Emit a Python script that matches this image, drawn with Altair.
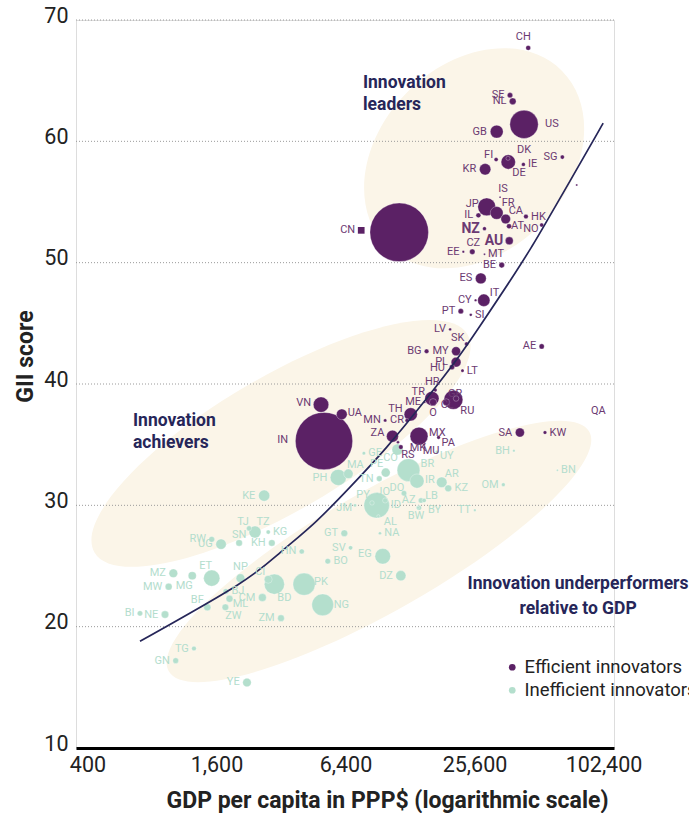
import math

import altair as alt
import pandas as pd

# ---------------------------------------------------------------------------
# Economies with an efficient innovation output (GII score vs GDP per capita)
# ---------------------------------------------------------------------------
EFF_CODES = ["CH", "SE", "NL", "US", "GB", "FI", "DK", "DE", "IE", "SG", "KR", "LU",
             "IS", "JP", "FR", "CA", "HK", "IL", "AT", "NO", "NZ", "AU", "CN", "CZ",
             "EE", "MT", "BE", "ES", "IT", "CY", "PT", "SI", "LV", "SK", "AE", "BG",
             "MY", "PL", "HU", "LT", "HR", "TR", "RO", "RU", "GR", "CL", "ME", "TH",
             "CR", "MN", "VN", "UA", "IN", "ZA", "MX", "PA", "MK", "MU", "RS", "SA",
             "KW", "QA"]
EFF_GDP = [45600, 37500, 38600, 43600, 32500, 32300, 36700, 36800, 43300, 65800, 28700, 76800,
           33700, 29200, 32500, 35800, 44500, 26700, 37100, 52700, 28500, 37200, 11400, 25000,
           22700, 28500, 34300, 27400, 28300, 25900, 22100, 24600, 19700, 23500, 52700, 15300,
           21000, 21000, 20100, 22500, 16800, 16200, 16400, 20400, 21000, 18900, 15000, 12900,
           12400, 9800, 4920, 6150, 5080, 10600, 14100, 17400, 11250, 14900, 11600, 41700,
           54600, 128000]
EFF_GII = [67.7, 63.8, 63.3, 61.4, 60.8, 58.5, 58.6, 58.3, 58.1, 58.7, 57.7, 56.4,
           55.4, 54.6, 54.1, 53.6, 53.8, 53.9, 53.0, 53.1, 52.8, 51.8, 52.5, 50.9,
           50.9, 50.7, 49.8, 48.7, 46.9, 46.9, 46.0, 45.7, 44.5, 43.3, 43.1, 42.7,
           42.7, 41.8, 41.4, 41.1, 39.5, 38.8, 38.5, 38.7, 38.8, 38.5, 38.5, 37.5,
           37.0, 37.0, 38.3, 37.5, 35.3, 35.7, 35.7, 35.6, 35.2, 35.0, 34.8, 36.0,
           36.0, 37.8]
EFF_POP = [8.4, 10, 17, 323, 66, 5.5, 5.7, 82, 4.7, 5.6, 51, 0.6,
           0.3, 127, 65, 36, 7.3, 8.5, 8.7, 5.3, 4.7, 24, 1380, 10.6,
           1.3, 0.4, 11.3, 46, 60, 1.2, 10.3, 2.1, 2.0, 5.4, 9.3, 7.1,
           31, 38, 9.8, 2.9, 4.2, 80, 20, 144, 11, 18, 0.6, 69,
           4.9, 3, 95, 45, 1320, 56, 128, 4, 2.1, 1.3, 7, 32,
           4, 2.6]

# ---------------------------------------------------------------------------
# Economies with an inefficient innovation output
# ---------------------------------------------------------------------------
INEFF_CODES = ["BH", "BN", "OM", "TT", "AR", "KZ", "UY", "BR", "IR", "CO", "GE", "MA",
               "PE", "PH", "TN", "DO", "AZ", "LB", "BY", "BW", "ID", "PY", "JO", "JM",
               "AL", "NA", "EG", "DZ", "GT", "SV", "BO", "HN", "PK", "NG", "BD", "CI",
               "CM", "ZM", "KG", "KH", "KE", "TZ", "TJ", "SN", "RW", "UG", "MZ", "MW",
               "MG", "ET", "NP", "BJ", "BF", "ML", "ZW", "BI", "NE", "TG", "GN", "YE"]
INEFF_GDP = [39100, 62400, 34900, 25700, 18000, 19300, 17100, 12600, 13800, 11200, 7800, 6600,
             9860, 5920, 9200, 12000, 14400, 14900, 14100, 13950, 8950, 8510, 9800, 7090,
             9110, 9270, 9550, 11600, 6320, 6760, 5290, 4000, 4100, 5010, 2980, 2790,
             2620, 3200, 2790, 2900, 2670, 2420, 2270, 2040, 1520, 1680, 1006, 957,
             1233, 1520, 2070, 1770, 1450, 1840, 1760, 703, 920, 1256, 1032, 2220]
INEFF_GII = [34.5, 32.9, 31.7, 29.6, 31.9, 31.4, 34.4, 32.9, 32.0, 34.6, 34.3, 32.6,
             32.7, 32.3, 32.2, 31.0, 30.4, 30.4, 29.8, 29.8, 30.0, 30.2, 30.4, 30.0,
             29.1, 27.7, 25.8, 24.2, 27.7, 26.5, 25.4, 26.2, 23.5, 21.8, 23.5, 23.9,
             22.4, 20.7, 27.8, 26.9, 30.8, 27.8, 28.1, 26.9, 27.2, 26.8, 24.4, 23.3,
             24.2, 24.0, 24.0, 22.9, 21.6, 22.3, 21.6, 21.1, 21.0, 18.2, 17.2, 15.4]
INEFF_POP = [1.4, 0.4, 4.4, 1.4, 44, 18, 3.4, 208, 80, 49, 3.7, 35,
             31, 103, 11.4, 10.6, 9.8, 6, 9.5, 2.3, 261, 6.8, 9.5, 2.9,
             2.9, 2.5, 97, 41, 17, 6.3, 11, 9, 197, 190, 163, 24,
             24, 17, 6, 16, 49, 57, 9, 16, 12, 42, 29, 18,
             25, 105, 29, 11, 19, 18, 16, 10, 21, 7.6, 12, 28]

# Trend curve of GII score against GDP per capita
TREND_GDP = [703, 1990, 3170, 4620, 6720, 9970, 15300, 21100, 27200, 38800, 47300, 55600, 88600, 102000]
TREND_GII = [18.8, 23.4, 26.1, 28.6, 31.5, 34.8, 38.8, 42.0, 44.8, 48.9, 51.3, 53.4, 59.6, 61.5]

X_TICKS = [400, 1600, 6400, 25600, 102400]
Y_TICKS = [10, 20, 30, 40, 50, 60, 70]
GROUPS = ["Efficient innovators", "Inefficient innovators"]

# Shaded groupings: name, centre GDP, centre GII
REGION_NAMES = ["leaders", "achievers", "underperformers"]
REGION_GDP = [25500, 3200, 9170]
REGION_GII = [58.6, 35.1, 26.2]

# Group captions: text, anchor GDP, anchor GII (baseline of first line)
CAPTIONS = ["Innovation\nleaders", "Innovation\nachievers", "Innovation underperformers\nrelative to GDP"]
CAPTION_GDP = [7720, 652, 77900]
CAPTION_GII = [64.4, 36.5, 23.1]

# ---------------------------------------------------------------------------
# Styling
# ---------------------------------------------------------------------------
FONT = "Roboto, Liberation Sans, sans-serif"
PURPLE = "#5b2165"
GREEN = "#b4dfcd"
LABEL_PURPLE = "#6c3a72"
LABEL_GREEN = "#b3ddcd"
BEIGE = "#fbf5e8"
NAVY = "#262659"
TEXT = "#222222"

W, H = 538, 728
X_DOMAIN = [353.5, 114640]
Y_DOMAIN = [10, 70]
SIZE_DOMAIN = [0, 1400]
SIZE_RANGE = [3, 3475]

PX_PER_DOUBLING = W / math.log2(X_DOMAIN[1] / X_DOMAIN[0])
PX_PER_GII = H / (Y_DOMAIN[1] - Y_DOMAIN[0])

# ellipse shape per region: semi-major px, semi-minor px, tilt degrees (counter-clockwise)
REGION_SHAPE = {
    "leaders": (124, 94, 45),
    "achievers": (216, 67, 30.3),
    "underperformers": (242, 60, 29.7),
}

# label placement: "W"/"E" beside the bubble, or (align, dx, dy) in pixels
LABEL_PLACE = {
    "CH": ("center", -5, -11), "US": ("left", 21, 0), "FI": ("right", -3, -5),
    "DK": ("left", 9, -8), "DE": ("left", 4, 11), "IS": ("center", 3, -8),
    "JP": ("right", -8, -3), "FR": ("left", 5, -10), "CA": ("left", 3, -8),
    "AT": ("left", 2, 0), "NO": ("right", -3, 4), "AU": ("right", -6, 0),
    "CN": ("right", -44, -2), "CZ": ("center", 1, -9), "IT": ("left", 6, -7),
    "SK": ("right", -2, -6), "HU": ("right", -7, 1), "HR": ("center", -3, -8),
    "TR": ("right", -7, -7), "RO": ("center", 0, 11), "RU": ("left", 7, 11),
    "GR": ("center", -1, -5), "CL": ("center", 1, 3), "TH": ("right", -8, -5),
    "CR": ("right", -3, 0), "VN": ("right", -10, -2), "UA": ("left", 6, -1),
    "IN": ("right", -36, -1), "ZA": ("right", -8, -3), "MX": ("left", 10, -3),
    "PA": ("left", 3, 6), "MK": ("center", 20, 6), "MU": ("center", 7, 6),
    "RS": ("center", 7, 8), "QA": ("center", -26, 0),
    "SI": "E", "MT": "E", "IE": "E", "HK": "E", "LT": "E", "KW": "E",
    "AR": ("center", 10, -8), "UY": ("left", 3, 4), "BR": ("left", 12, -6),
    "IR": ("left", 8, -1), "CO": ("center", -7, 8), "MA": ("center", 7, -9),
    "PE": ("center", -9, -9), "PH": ("right", -11, 1), "DO": ("center", -7, -5),
    "LB": ("left", 1, -4), "BY": ("left", 9, 2), "BW": ("center", -2, 8),
    "ID": ("left", 14, 0), "PY": ("center", -9, -8), "JO": ("center", -2, -8),
    "JM": ("right", -3, 3), "AL": ("center", 12, 6), "EG": ("right", -11, -2),
    "DZ": ("right", -8, 0), "PK": ("left", 10, -2), "NG": ("left", 11, 0),
    "BD": ("center", 10, 14), "CI": ("center", -8, -7), "TZ": ("center", 8, -10),
    "TJ": ("center", -6, -6), "SN": ("center", 0, -8), "MG": ("center", -8, 10),
    "ET": ("center", -6, -12), "NP": ("center", 0, -11), "BF": ("center", -10, -7),
    "ML": ("center", 11, 5), "ZW": ("center", 8, 9),
    "BN": "E", "KZ": "E", "GE": "E", "NA": "E", "BO": "E", "KG": "E", "BJ": "E",
}
UNLABELLED = {"LU"}
LABEL_TEXT = {"RO": "O"}
BOLD_LABELS = {"NZ", "AU"}


def radius(pop):
    area = SIZE_RANGE[0] + (SIZE_RANGE[1] - SIZE_RANGE[0]) * pop / SIZE_DOMAIN[1]
    return math.sqrt(area / math.pi)


def build_points():
    rows = []
    for grp, codes, gdp, gii, pop in [
        (GROUPS[0], EFF_CODES, EFF_GDP, EFF_GII, EFF_POP),
        (GROUPS[1], INEFF_CODES, INEFF_GDP, INEFF_GII, INEFF_POP),
    ]:
        for c, g, s, p in zip(codes, gdp, gii, pop):
            rows.append({"code": c, "gdp": g, "gii": s, "pop": p, "group": grp})
    return pd.DataFrame(rows)


points = build_points()

label_rows = []
for rec in points.to_dict("records"):
    code = rec["code"]
    if code in UNLABELLED:
        continue
    place = LABEL_PLACE.get(code, "W")
    r = radius(rec["pop"])
    if place == "W":
        side, dx, dy = "right", -(r + 2.5), 0
    elif place == "E":
        side, dx, dy = "left", r + 2.5, 0
    else:
        side, dx, dy = place
    label_rows.append({
        "label": LABEL_TEXT.get(code, code),
        "lab_gdp": rec["gdp"] * 2 ** (dx / PX_PER_DOUBLING),
        "lab_gii": rec["gii"] - dy / PX_PER_GII,
        "side": side,
        "group": rec["group"],
        "heavy": code in BOLD_LABELS,
    })
labels = pd.DataFrame(label_rows)

x_scale = alt.Scale(type="log", domain=X_DOMAIN, nice=False)
y_scale = alt.Scale(domain=Y_DOMAIN, nice=False, zero=False)

X_AXIS = alt.Axis(
    values=X_TICKS, format=",d", title="GDP per capita in PPP$ (logarithmic scale)",
    grid=False, ticks=False, domainColor="#000000", domainWidth=3, zindex=1,
    labelFont=FONT, labelFontSize=21.5, labelColor=TEXT, labelPadding=6,
    labelFlush=False, labelOverlap=False,
    titleFont=FONT, titleFontSize=23, titleFontWeight="bold", titleColor=TEXT,
    titleX=311, titleY=52, titleAlign="center", titleBaseline="middle",
)
Y_AXIS = alt.Axis(
    values=Y_TICKS, title="GII score", grid=False, domain=False, ticks=False,
    labelFont=FONT, labelFontSize=21.5, labelColor=TEXT, labelPadding=8,
    labelOffset=-4, titleFont=FONT, titleFontSize=23, titleFontWeight="bold",
    titleColor=TEXT, titleX=-51, titleY=336, titleAngle=270,
    titleAlign="center", titleBaseline="middle",
)


def xenc(field):
    return alt.X(f"{field}:Q", scale=x_scale, axis=X_AXIS)


def yenc(field):
    return alt.Y(f"{field}:Q", scale=y_scale, axis=Y_AXIS)


layers = []

# shaded ellipses behind everything
regions = pd.DataFrame({"region": REGION_NAMES, "gdp": REGION_GDP, "gii": REGION_GII})
for name in REGION_NAMES:
    a, b, tilt = REGION_SHAPE[name]
    k = b / a
    path = f"M-1,0 A1,{k:.4f} 0 1,1 1,0 A1,{k:.4f} 0 1,1 -1,0 Z"
    layers.append(
        alt.Chart(regions[regions["region"] == name]).mark_point(
            shape=path, filled=True, color=BEIGE, opacity=1, strokeWidth=0,
            size=4 * a * a, angle=360 - tilt,
        ).encode(x=xenc("gdp"), y=yenc("gii"))
    )

# dotted horizontal guides
guides = pd.DataFrame({"gii": Y_TICKS[1:]})
layers.append(
    alt.Chart(guides).mark_rule(color="#9a9a9a", strokeWidth=1, strokeDash=[1, 2]).encode(y=yenc("gii"))
)

# bubbles sized by population
layers.append(
    alt.Chart(points).mark_circle(
        opacity=1, stroke="white", strokeWidth=0.6, strokeOpacity=0.5, clip=True
    ).encode(
        x=xenc("gdp"),
        y=yenc("gii"),
        size=alt.Size("pop:Q", scale=alt.Scale(domain=SIZE_DOMAIN, range=SIZE_RANGE), legend=None),
        color=alt.Color(
            "group:N",
            scale=alt.Scale(domain=GROUPS, range=[PURPLE, GREEN]),
            legend=alt.Legend(
                title=None, orient="none", legendX=427, legendY=638,
                labelFont=FONT, labelFontSize=18.5, labelColor=TEXT, labelLimit=0,
                symbolType="circle", symbolSize=45, symbolStrokeWidth=0,
                symbolOpacity=1, rowPadding=4, labelOffset=3, padding=0,
            ),
        ),
        order=alt.Order("pop:Q", sort="descending"),
    )
)

# square marker next to the CN label
cn = points[points["code"] == "CN"].copy()
cn["sq_gdp"] = cn["gdp"] * 2 ** (-38 / PX_PER_DOUBLING)
cn["sq_gii"] = cn["gii"] + 2 / PX_PER_GII
layers.append(
    alt.Chart(cn).mark_square(color=PURPLE, opacity=1, size=45).encode(
        x=xenc("sq_gdp"), y=yenc("sq_gii")
    )
)

# trend curve
trend = pd.DataFrame({"gdp": TREND_GDP, "gii": TREND_GII})
layers.append(
    alt.Chart(trend).mark_line(color=NAVY, strokeWidth=1.7, interpolate="natural").encode(
        x=xenc("gdp"), y=yenc("gii")
    )
)

# country code labels
for grp, col in [(GROUPS[1], LABEL_GREEN), (GROUPS[0], LABEL_PURPLE)]:
    for side in ["left", "center", "right"]:
        for heavy in [False, True]:
            sub = labels[(labels["group"] == grp) & (labels["side"] == side) & (labels["heavy"] == heavy)]
            if sub.empty:
                continue
            layers.append(
                alt.Chart(sub).mark_text(
                    align=side, baseline="middle", font=FONT,
                    fontSize=14 if heavy else 11,
                    fontWeight="bold" if heavy else "normal", color=col,
                ).encode(x=xenc("lab_gdp"), y=yenc("lab_gii"), text="label:N")
            )

# group captions
captions = pd.DataFrame({"text": CAPTIONS, "gdp": CAPTION_GDP, "gii": CAPTION_GII})
for i, (side, lh) in enumerate([("left", 22), ("left", 22), ("center", 25)]):
    layers.append(
        alt.Chart(captions.iloc[[i]]).mark_text(
            align=side, baseline="alphabetic", font=FONT, fontSize=17.5,
            fontWeight="bold", color=NAVY, lineBreak="\n", lineHeight=lh,
        ).encode(x=xenc("gdp"), y=yenc("gii"), text="text:N")
    )

chart = alt.layer(*layers).properties(
    width=W, height=H,
    padding={"left": 76, "top": 20, "right": 75, "bottom": 65},
    autosize=alt.AutoSizeParams(type="none"),
).configure_view(stroke=None).configure(background="white")

chart.save("out.html", embed_options={"renderer": "svg", "actions": False})
